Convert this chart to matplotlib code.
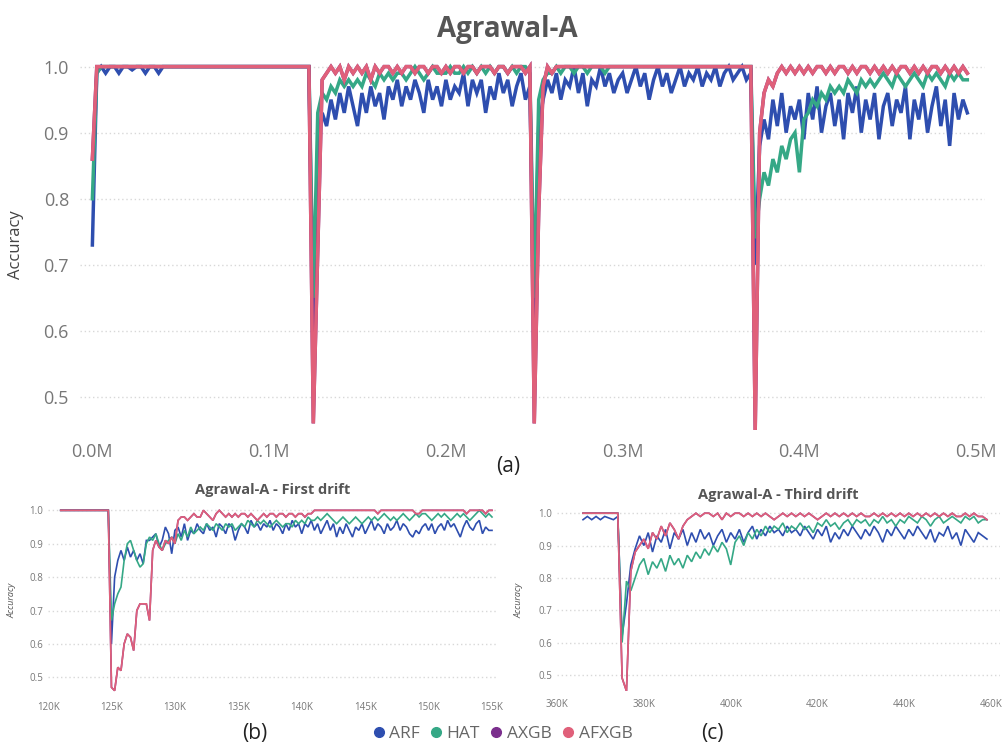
import numpy as np
import matplotlib.pyplot as plt
from matplotlib.lines import Line2D

plt.rcParams['font.family'] = ['Open Sans', 'DejaVu Sans']

# colours of the four learners
colors = {'ARF': '#2e4eaf', 'HAT': '#35a886', 'AXGB': '#7b2f8d', 'AFXGB': '#e0607a'}

# ---- (a) whole stream, one reading every 2.5K instances, from 0 to 495K
main_start, main_step = 0.0, 2.5
arf_main = [
    0.73, 0.99, 1.0, 0.99, 1.0, 1.0, 0.99, 1.0, 1.0, 0.995, 1.0, 1.0, 0.99, 1.0, 1.0, 0.99, 1.0, 1.0, 1.0, 1.0,
    1.0, 1.0, 1.0, 1.0, 1.0, 1.0, 1.0, 1.0, 1.0, 1.0, 1.0, 1.0, 1.0, 1.0, 1.0, 1.0, 1.0, 1.0, 1.0, 1.0,
    1.0, 1.0, 1.0, 1.0, 1.0, 1.0, 1.0, 1.0, 1.0, 1.0, 0.6, 0.88, 0.93, 0.91, 0.95, 0.92, 0.96, 0.93, 0.97, 0.94,
    0.91, 0.96, 0.93, 0.97, 0.94, 0.96, 0.92, 0.97, 0.95, 0.98, 0.94, 0.97, 0.95, 0.98, 0.96, 0.93, 0.98, 0.95, 0.97, 0.94,
    0.98, 0.95, 0.97, 0.96, 0.99, 0.94, 0.98, 0.96, 0.98, 0.93, 0.97, 0.95, 0.99, 0.96, 0.98, 0.94, 0.97, 0.99, 0.95, 0.97,
    0.62, 0.91, 0.95, 0.98, 0.96, 0.99, 0.95, 0.98, 0.97, 1.0, 0.96, 0.99, 0.94, 0.98, 0.97, 1.0, 0.97, 0.99, 0.96, 0.98,
    0.99, 0.96, 0.98, 1.0, 0.97, 0.99, 0.95, 0.98, 1.0, 0.97, 0.99, 0.96, 0.98, 1.0, 0.97, 0.99, 0.98, 1.0, 0.97, 0.99,
    0.98, 1.0, 0.97, 0.99, 1.0, 0.98, 0.99, 1.0, 0.98, 0.99, 0.7, 0.88, 0.92, 0.89, 0.95, 0.91, 0.96, 0.9, 0.94, 0.92,
    0.95, 0.89, 0.96, 0.92, 0.97, 0.9, 0.94, 0.96, 0.91, 0.95, 0.89, 0.96, 0.93, 0.97, 0.9, 0.95, 0.92, 0.96, 0.89, 0.94,
    0.96, 0.91, 0.95, 0.93, 0.97, 0.89, 0.95, 0.92, 0.96, 0.9, 0.94, 0.97, 0.91, 0.95, 0.88, 0.96, 0.92, 0.95, 0.93,
]
hat_main = [
    0.80, 0.99, 1.0, 1.0, 1.0, 1.0, 1.0, 1.0, 1.0, 1.0, 1.0, 1.0, 1.0, 1.0, 1.0, 1.0, 1.0, 1.0, 1.0, 1.0,
    1.0, 1.0, 1.0, 1.0, 1.0, 1.0, 1.0, 1.0, 1.0, 1.0, 1.0, 1.0, 1.0, 1.0, 1.0, 1.0, 1.0, 1.0, 1.0, 1.0,
    1.0, 1.0, 1.0, 1.0, 1.0, 1.0, 1.0, 1.0, 1.0, 1.0, 0.65, 0.93, 0.96, 0.95, 0.97, 0.96, 0.98, 0.97, 0.98, 0.97,
    0.98, 0.97, 0.99, 0.98, 0.97, 0.99, 0.98, 0.99, 0.98, 0.99, 0.99, 0.98, 0.99, 1.0, 0.99, 0.98, 0.99, 1.0, 0.99, 0.99,
    0.99, 1.0, 0.99, 0.99, 1.0, 0.99, 1.0, 0.99, 1.0, 0.99, 1.0, 0.99, 1.0, 1.0, 0.99, 1.0, 0.99, 1.0, 1.0, 0.99,
    0.65, 0.95, 0.98, 0.99, 0.99, 1.0, 0.99, 1.0, 1.0, 0.99, 1.0, 1.0, 0.99, 1.0, 1.0, 1.0, 0.99, 1.0, 1.0, 1.0,
    1.0, 1.0, 1.0, 1.0, 1.0, 1.0, 1.0, 1.0, 1.0, 1.0, 1.0, 1.0, 1.0, 1.0, 1.0, 1.0, 1.0, 1.0, 1.0, 1.0,
    1.0, 1.0, 1.0, 1.0, 1.0, 1.0, 1.0, 1.0, 1.0, 1.0, 0.74, 0.8, 0.84, 0.82, 0.86, 0.84, 0.88, 0.86, 0.89, 0.9,
    0.84, 0.92, 0.93, 0.95, 0.94, 0.96, 0.95, 0.97, 0.96, 0.97, 0.96, 0.98, 0.97, 0.96, 0.98, 0.97, 0.98, 0.97, 0.98, 0.99,
    0.98, 0.97, 0.99, 0.98, 0.97, 0.98, 0.99, 0.98, 0.97, 0.99, 0.98, 0.99, 0.98, 0.97, 0.99, 0.98, 0.99, 0.98, 0.98,
]
afxgb_main = [
    0.86, 1.0, 1.0, 1.0, 1.0, 1.0, 1.0, 1.0, 1.0, 1.0, 1.0, 1.0, 1.0, 1.0, 1.0, 1.0, 1.0, 1.0, 1.0, 1.0,
    1.0, 1.0, 1.0, 1.0, 1.0, 1.0, 1.0, 1.0, 1.0, 1.0, 1.0, 1.0, 1.0, 1.0, 1.0, 1.0, 1.0, 1.0, 1.0, 1.0,
    1.0, 1.0, 1.0, 1.0, 1.0, 1.0, 1.0, 1.0, 1.0, 1.0, 0.46, 0.72, 0.98, 0.99, 1.0, 0.99, 1.0, 0.98, 1.0, 0.99,
    1.0, 0.99, 1.0, 0.98, 1.0, 0.99, 1.0, 1.0, 0.99, 1.0, 0.99, 1.0, 1.0, 0.99, 1.0, 1.0, 0.99, 1.0, 1.0, 0.99,
    1.0, 0.99, 1.0, 1.0, 0.99, 1.0, 1.0, 0.99, 1.0, 1.0, 1.0, 0.99, 1.0, 1.0, 0.99, 1.0, 1.0, 1.0, 0.99, 1.0,
    0.46, 0.78, 0.97, 1.0, 0.99, 1.0, 1.0, 1.0, 1.0, 1.0, 1.0, 1.0, 1.0, 1.0, 1.0, 1.0, 1.0, 1.0, 1.0, 1.0,
    1.0, 1.0, 1.0, 1.0, 1.0, 1.0, 1.0, 1.0, 1.0, 1.0, 1.0, 1.0, 1.0, 1.0, 1.0, 1.0, 1.0, 1.0, 1.0, 1.0,
    1.0, 1.0, 1.0, 1.0, 1.0, 1.0, 1.0, 1.0, 1.0, 1.0, 0.45, 0.9, 0.96, 0.98, 0.97, 0.99, 1.0, 0.99, 1.0, 0.99,
    1.0, 0.99, 1.0, 0.99, 1.0, 1.0, 0.99, 1.0, 0.99, 1.0, 1.0, 0.99, 1.0, 0.99, 1.0, 1.0, 0.99, 1.0, 0.99, 1.0,
    0.99, 1.0, 0.99, 1.0, 1.0, 0.99, 1.0, 0.99, 1.0, 0.99, 1.0, 1.0, 0.99, 1.0, 0.99, 1.0, 0.99, 1.0, 0.99,
]
# AXGB is drawn first and sits completely under AFXGB in the picture
axgb_main = list(afxgb_main)

# ---- (b) first drift, one reading every 0.25K from 121K to 155K
first_start, first_step = 121.0, 0.25
arf_first = [
    1.0, 1.0, 1.0, 1.0, 1.0, 1.0, 1.0, 1.0, 1.0, 1.0, 1.0, 1.0, 1.0, 1.0, 1.0, 1.0,
    0.60, 0.80, 0.85, 0.88, 0.85, 0.89, 0.86, 0.88, 0.85, 0.87, 0.84, 0.91, 0.91, 0.92, 0.93, 0.89,
    0.91, 0.95, 0.93, 0.87, 0.94, 0.95, 0.92, 0.96, 0.91, 0.94, 0.93, 0.96, 0.94, 0.93, 0.96, 0.94,
    0.95, 0.92, 0.96, 0.95, 0.93, 0.96, 0.95, 0.91, 0.94, 0.96, 0.95, 0.93, 0.97, 0.95, 0.96, 0.94,
    0.96, 0.95, 0.97, 0.94, 0.96, 0.95, 0.93, 0.96, 0.94, 0.97, 0.95, 0.96, 0.93, 0.96, 0.95, 0.97,
    0.94, 0.96, 0.93, 0.95, 0.97, 0.94, 0.96, 0.92, 0.95, 0.93, 0.96, 0.94, 0.92, 0.95, 0.94, 0.96,
    0.93, 0.95, 0.97, 0.94, 0.96, 0.95, 0.93, 0.96, 0.94, 0.95, 0.97, 0.94, 0.96, 0.95, 0.93, 0.92,
    0.94, 0.93, 0.95, 0.96, 0.94, 0.96, 0.93, 0.95, 0.96, 0.94, 0.97, 0.95, 0.96, 0.94, 0.92, 0.95,
    0.97, 0.95, 0.94, 0.96, 0.97, 0.93, 0.95, 0.94, 0.94,
]
hat_first = [
    1.0, 1.0, 1.0, 1.0, 1.0, 1.0, 1.0, 1.0, 1.0, 1.0, 1.0, 1.0, 1.0, 1.0, 1.0, 1.0,
    0.67, 0.72, 0.75, 0.77, 0.85, 0.90, 0.91, 0.88, 0.85, 0.83, 0.84, 0.90, 0.92, 0.91, 0.93, 0.90,
    0.88, 0.90, 0.91, 0.92, 0.90, 0.93, 0.91, 0.94, 0.92, 0.95, 0.93, 0.94, 0.95, 0.94, 0.96, 0.95,
    0.94, 0.96, 0.95, 0.94, 0.96, 0.95, 0.96, 0.94, 0.95, 0.96, 0.95, 0.97, 0.96, 0.95, 0.97, 0.96,
    0.97, 0.96, 0.95, 0.96, 0.97, 0.96, 0.95, 0.96, 0.96, 0.95, 0.97, 0.96, 0.97, 0.96, 0.98, 0.97,
    0.97, 0.98, 0.97, 0.98, 0.99, 0.98, 0.97, 0.96, 0.97, 0.98, 0.97, 0.96, 0.97, 0.98, 0.97, 0.96,
    0.97, 0.98, 0.97, 0.98, 0.97, 0.98, 0.99, 0.98, 0.97, 0.98, 0.97, 0.98, 0.99, 0.98, 0.97, 0.98,
    0.99, 0.98, 0.99, 0.99, 0.98, 0.97, 0.98, 0.99, 0.98, 0.99, 0.98, 0.97, 0.98, 0.99, 0.98, 0.99,
    0.98, 0.97, 0.98, 0.99, 1.0, 0.99, 0.98, 0.99, 0.98,
]
afxgb_first = [
    1.0, 1.0, 1.0, 1.0, 1.0, 1.0, 1.0, 1.0, 1.0, 1.0, 1.0, 1.0, 1.0, 1.0, 1.0, 1.0,
    0.47, 0.46, 0.53, 0.52, 0.60, 0.63, 0.62, 0.58, 0.70, 0.72, 0.72, 0.72, 0.67, 0.88, 0.91, 0.89,
    0.88, 0.91, 0.90, 0.92, 0.90, 0.97, 0.98, 0.98, 0.97, 0.98, 0.99, 0.98, 0.98, 1.0, 0.99, 0.98,
    0.97, 0.99, 1.0, 0.99, 0.98, 0.99, 0.98, 0.99, 0.98, 0.99, 0.99, 0.98, 0.99, 0.98, 0.97, 0.98,
    0.99, 0.98, 0.99, 0.99, 0.98, 0.99, 0.99, 0.98, 0.99, 0.99, 0.98, 0.99, 0.99, 0.98, 0.99, 0.99,
    1.0, 1.0, 1.0, 1.0, 1.0, 1.0, 1.0, 1.0, 1.0, 1.0, 1.0, 1.0, 1.0, 1.0, 1.0, 1.0,
    1.0, 1.0, 1.0, 1.0, 0.99, 1.0, 1.0, 1.0, 1.0, 1.0, 1.0, 1.0, 1.0, 1.0, 1.0, 1.0,
    0.99, 0.99, 1.0, 1.0, 1.0, 1.0, 1.0, 1.0, 1.0, 1.0, 1.0, 1.0, 1.0, 1.0, 1.0, 1.0,
    0.99, 1.0, 1.0, 1.0, 1.0, 1.0, 0.99, 1.0, 1.0,
]
axgb_first = list(afxgb_first)

# ---- (c) third drift, one reading every 1K from 366K to 459K
third_start, third_step = 366.0, 1.0
arf_third = [
    0.98, 0.99, 0.98, 0.99, 0.98, 0.99, 0.985, 0.98, 0.99,
    0.62, 0.72, 0.84, 0.89, 0.93, 0.90, 0.94, 0.88, 0.93, 0.91,
    0.95, 0.89, 0.94, 0.92, 0.95, 0.90, 0.94, 0.91, 0.95, 0.92,
    0.94, 0.90, 0.93, 0.95, 0.91, 0.94, 0.92, 0.95, 0.91, 0.94,
    0.96, 0.92, 0.95, 0.93, 0.96, 0.94, 0.95, 0.93, 0.96, 0.94,
    0.95, 0.93, 0.96, 0.94, 0.92, 0.95, 0.93, 0.96, 0.91, 0.94,
    0.92, 0.95, 0.93, 0.96, 0.94, 0.92, 0.95, 0.93, 0.96, 0.94,
    0.91, 0.95, 0.93, 0.96, 0.94, 0.92, 0.95, 0.93, 0.96, 0.94,
    0.92, 0.95, 0.91, 0.94, 0.93, 0.96, 0.92, 0.94, 0.90, 0.95,
    0.93, 0.91, 0.94, 0.93, 0.92,
]
hat_third = [
    1.0, 1.0, 1.0, 1.0, 1.0, 1.0, 1.0, 1.0, 1.0,
    0.60, 0.79, 0.76, 0.80, 0.84, 0.86, 0.81, 0.85, 0.83, 0.86,
    0.82, 0.87, 0.84, 0.86, 0.83, 0.87, 0.85, 0.88, 0.86, 0.89,
    0.87, 0.90, 0.88, 0.91, 0.89, 0.84, 0.91, 0.93, 0.90, 0.94,
    0.92, 0.95, 0.93, 0.96, 0.94, 0.96, 0.95, 0.97, 0.94, 0.96,
    0.95, 0.97, 0.95, 0.96, 0.94, 0.97, 0.96, 0.98, 0.96, 0.97,
    0.95, 0.97, 0.98, 0.96, 0.98, 0.97, 0.98, 0.96, 0.98, 0.97,
    0.99, 0.97, 0.98, 0.96, 0.98, 0.97, 0.99, 0.98, 0.97, 0.99,
    0.98, 0.96, 0.98, 0.99, 0.97, 0.98, 0.99, 0.98, 0.97, 0.99,
    0.98, 0.99, 0.97, 0.98, 0.98,
]
afxgb_third = [
    1.0, 1.0, 1.0, 1.0, 1.0, 1.0, 1.0, 1.0, 1.0,
    0.49, 0.45, 0.82, 0.88, 0.90, 0.92, 0.89, 0.94, 0.92, 0.96,
    0.93, 0.97, 0.95, 0.92, 0.96, 0.98, 0.99, 1.0, 0.99, 1.0,
    1.0, 0.99, 1.0, 0.98, 1.0, 0.99, 1.0, 1.0, 0.99, 1.0,
    0.99, 1.0, 0.99, 1.0, 0.99, 0.98, 0.99, 1.0, 0.99, 1.0,
    0.99, 1.0, 0.99, 1.0, 0.99, 0.98, 0.99, 1.0, 0.99, 1.0,
    0.99, 1.0, 0.99, 1.0, 0.99, 1.0, 0.99, 0.99, 1.0, 0.99,
    1.0, 0.99, 1.0, 0.99, 1.0, 0.99, 1.0, 0.99, 1.0, 0.99,
    1.0, 0.99, 1.0, 0.99, 1.0, 0.99, 1.0, 0.99, 0.99, 1.0,
    0.99, 1.0, 0.99, 0.99, 0.98,
]
axgb_third = list(afxgb_third)

main_ticks = [0, 100, 200, 300, 400, 500]
first_ticks = [120, 125, 130, 135, 140, 145, 150, 155]
third_ticks = [360, 380, 400, 420, 440, 460]
acc_ticks = [0.5, 0.6, 0.7, 0.8, 0.9, 1.0]


def draw(ax, start, step, series, lw):
    for name, vals in series:
        x = start + step * np.arange(len(vals))
        ax.plot(x, vals, color=colors[name], lw=lw, solid_joinstyle='miter')


def style(ax, labelsize):
    for s in ax.spines.values():
        s.set_visible(False)
    ax.set_yticks(acc_ticks)
    ax.set_yticklabels([f'{v:.1f}' for v in acc_ticks])
    ax.yaxis.grid(True, linestyle=(0, (1, 2)), color='#d8d8d8', lw=1)
    ax.set_axisbelow(True)
    ax.tick_params(length=0, labelsize=labelsize, colors='#777777')


fig = plt.figure(figsize=(10.05, 7.48), dpi=100)
fig.patch.set_facecolor('white')

# (a)
ax = fig.add_axes([0.0796, 0.4251, 0.9005, 0.4947])
draw(ax, main_start, main_step,
     [('ARF', arf_main), ('HAT', hat_main), ('AXGB', axgb_main), ('AFXGB', afxgb_main)], 2.5)
ax.set_xlim(-7, 505)
ax.set_ylim(0.45, 1.01)
style(ax, 13)
ax.set_xticks(main_ticks)
ax.set_xticklabels([f'{t / 1000:.1f}M' for t in main_ticks])
ax.tick_params(axis='x', pad=9)
ax.tick_params(axis='y', pad=8)
ax.set_ylabel('Accuracy', fontsize=12, color='#444444')
ax.yaxis.set_label_coords(-0.062, 0.5)
fig.text(0.5045, 1 - 29 / 748, 'Agrawal-A', ha='center', va='center',
         fontsize=20, fontweight='bold', color='#555555')
fig.text(508 / 1005, 1 - 466 / 748, '(a)', ha='center', va='center', fontsize=15, color='#222222')

# (b)
axb = fig.add_axes([0.0478, 0.0722, 0.4468, 0.25])
draw(axb, first_start, first_step,
     [('ARF', arf_first), ('HAT', hat_first), ('AXGB', axgb_first), ('AFXGB', afxgb_first)], 1.2)
axb.set_xlim(120, 155.4)
axb.set_ylim(0.45, 1.01)
style(axb, 7)
axb.set_xticks(first_ticks)
axb.set_xticklabels([f'{t}K' for t in first_ticks])
axb.tick_params(axis='x', pad=6)
axb.set_ylabel('Accuracy', fontsize=6.5, color='#555555', style='italic')
axb.yaxis.set_label_coords(-0.07, 0.5)
axb.set_title('Agrawal-A - First drift', fontsize=10.5, fontweight='bold', color='#555555', pad=9)
fig.text(255 / 1005, 1 - 734 / 748, '(b)', ha='center', va='center', fontsize=15, color='#222222')

# (c)
axc = fig.add_axes([0.5542, 0.0762, 0.4408, 0.242])
draw(axc, third_start, third_step,
     [('ARF', arf_third), ('HAT', hat_third), ('AXGB', axgb_third), ('AFXGB', afxgb_third)], 1.2)
axc.set_xlim(360, 462)
axc.set_ylim(0.45, 1.01)
style(axc, 7)
axc.set_xticks(third_ticks)
axc.set_xticklabels([f'{t}K' for t in third_ticks])
axc.tick_params(axis='x', pad=6)
axc.set_ylabel('Accuracy', fontsize=6.5, color='#555555', style='italic')
axc.yaxis.set_label_coords(-0.075, 0.5)
axc.set_title('Agrawal-A - Third drift', fontsize=10.5, fontweight='bold', color='#555555', pad=8)
fig.text(712 / 1005, 1 - 734 / 748, '(c)', ha='center', va='center', fontsize=15, color='#222222')

# shared legend
handles = [Line2D([], [], marker='o', ls='', color=colors[n], markersize=7) for n in colors]
fig.legend(handles, list(colors), loc='center', bbox_to_anchor=(0.5, 1 - 734 / 748), ncol=4,
           frameon=False, fontsize=12.5, handlelength=0.7, handletextpad=0.25, columnspacing=0.6,
           labelcolor='#666666')

fig.savefig('out.png', dpi=100, facecolor='white')
